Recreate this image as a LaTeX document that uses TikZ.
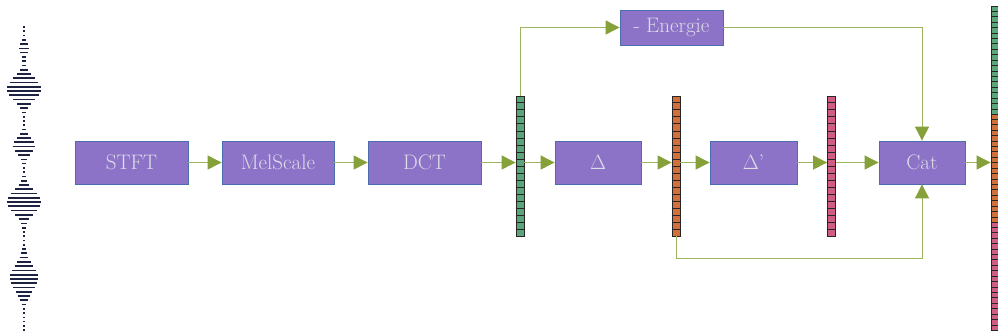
\documentclass[tikz,border=0pt]{standalone}
\usepackage{fontspec}
\usetikzlibrary{arrows.meta,calc}
\definecolor{boxfill}{HTML}{8C73C8}
\definecolor{boxdraw}{HTML}{4A6DB0}
\definecolor{boxtext}{HTML}{DCDCE6}
\definecolor{arrowc}{HTML}{86A03A}
\definecolor{linec}{HTML}{9DB45E}
\definecolor{cgreen}{HTML}{5CA57A}
\definecolor{corange}{HTML}{D2703C}
\definecolor{cpink}{HTML}{D05C84}
\definecolor{wavec}{HTML}{1C2240}
\begin{document}
\begin{tikzpicture}[x=1pt,y=-1pt,
  box/.style={draw=boxdraw, fill=boxfill, text=boxtext, line width=0.8pt,
    font=\fontsize{21}{24}\selectfont, inner sep=0pt, minimum height=43pt},
  vec/.style={draw=black!85, line width=0.8pt, minimum width=8pt, inner sep=0pt},
  conn/.style={draw=linec, line width=0.9pt,
    -{Triangle[length=14pt,width=14pt,color=arrowc]}},
  plain/.style={draw=linec, line width=0.9pt}
]
\useasboundingbox (0,0) rectangle (998,335);

% waveform
\foreach \i in {0,...,71}{
  \pgfmathsetmacro\yy{27+\i*4.27}
  \pgfmathsetmacro\ww{33*exp(-((\yy-89)/15)^2)+21*exp(-((\yy-146)/11)^2)+33*exp(-((\yy-202)/15)^2)+27*exp(-((\yy-278)/18)^2)+8*exp(-((\yy-48)/8)^2)+1.5}
  \draw[wavec, line width=1.7pt] (24-\ww/2,\yy) -- (24+\ww/2,\yy);
}

% boxes
\node[box, minimum width=113pt] (stft) at (131.5,162.5) {STFT};
\node[box, minimum width=112pt] (mel) at (278,162.5) {MelScale};
\node[box, minimum width=113pt] (dct) at (424.5,162.5) {DCT};
\node[box, minimum width=86pt] (d1) at (598,162.5) {$\Delta$};
\node[box, minimum width=87pt] (d2) at (753.5,162.5) {$\Delta$'};
\node[box, minimum width=86pt] (cat) at (922,162.5) {Cat};
\node[box, minimum width=103pt, minimum height=35pt] (en) at (671.5,27.5) {- Energie};

% vectors
\node[vec, fill=cgreen, minimum height=140pt] (gv) at (520,166) {};
\node[vec, fill=corange, minimum height=140pt] (ov) at (676,166) {};
\node[vec, fill=cpink, minimum height=140pt] (pv) at (831.5,166) {};
\node[vec, fill=cgreen, minimum height=108pt] (fg) at (995,60) {};
\node[vec, fill=corange, minimum height=108pt] (fo) at (995,168) {};
\node[vec, fill=cpink, minimum height=108pt] (fp) at (995,276) {};
\foreach \v/\n in {gv/20,ov/20,pv/20,fg/20,fo/20,fp/20}{
  \foreach \k in {1,...,19}{
    \draw[black!85, line width=0.6pt] ($(\v.north west)!\k/\n!(\v.south west)$) -- ($(\v.north east)!\k/\n!(\v.south east)$);
  }
}

% connectors
\draw[conn] (stft.east) -- (mel.west);
\draw[conn] (mel.east) -- (dct.west);
\draw[conn] (dct.east) -- (dct.east -| gv.west);
\draw[conn] (d1.west -| gv.east) -- (d1.west);
\draw[conn] (d1.east) -- (d1.east -| ov.west);
\draw[conn] (d2.west -| ov.east) -- (d2.west);
\draw[conn] (d2.east) -- (d2.east -| pv.west);
\draw[conn] (cat.west -| pv.east) -- (cat.west);
\draw[conn] (cat.east) -- (cat.east -| fo.west);
\draw[conn] (gv.north) |- (en.west);
\draw[conn] (en.east) -| (cat.north);
\coordinate (low) at (676,258);
\draw[plain] (ov.south) -- (ov.south |- low);
\draw[conn] (ov.south |- low) -| (cat.south);
\end{tikzpicture}
\end{document}
